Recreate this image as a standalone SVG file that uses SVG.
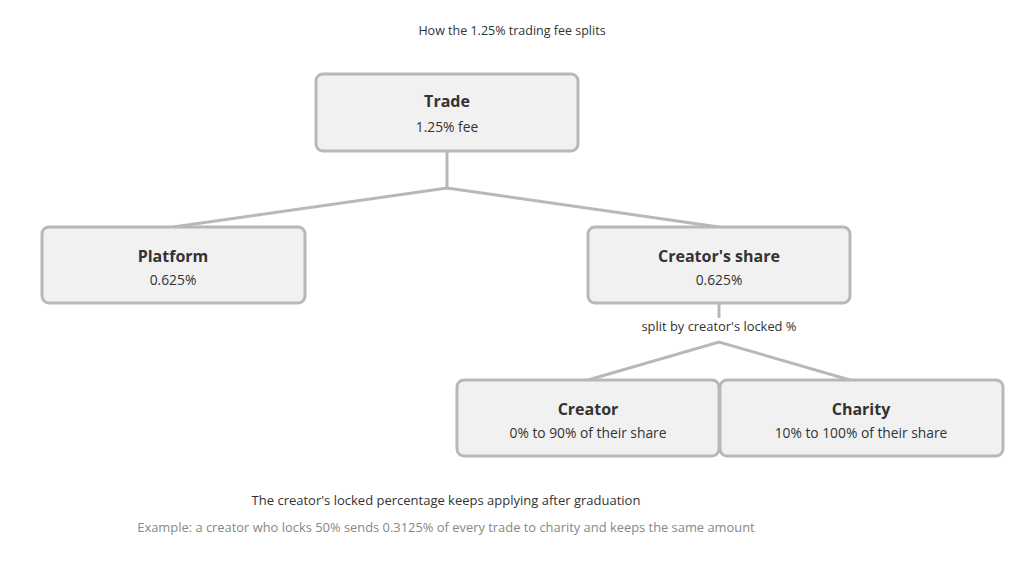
<svg xmlns="http://www.w3.org/2000/svg" width="1024" height="575" viewBox="0 0 1024 575">
<style>
.box{fill:#f1f1f1;stroke:#b8b8b8;stroke-width:3}
.t{font-family:"Open Sans","Noto Sans","Liberation Sans",sans-serif;fill:#333;text-anchor:middle}
.h{font-size:16px;font-weight:700}
.s{font-size:13.8px}
.c{fill:none;stroke:#b8b8b8;stroke-width:3}
</style>
<rect width="1024" height="575" fill="#ffffff"/>
<text class="t" x="512" y="35" font-size="12.5">How the 1.25% trading fee splits</text>
<g id="connectors">
<polyline class="c" points="447,151 447,188"/>
<polyline class="c" points="173,227 447,188 719,227"/>
<polyline class="c" points="719,303 719,318"/>
<polyline class="c" points="588,380 719,342 850,380"/>
<text class="t" x="719" y="331" font-size="12.9">split by creator's locked %</text>
</g>
<g id="trade">
<rect class="box" x="316" y="74" width="262" height="77" rx="7"/>
<text class="t h" x="447" y="107">Trade</text>
<text class="t s" x="447" y="132">1.25% fee</text>
</g>
<g id="platform">
<rect class="box" x="42" y="227" width="263" height="76" rx="7"/>
<text class="t h" x="173" y="262">Platform</text>
<text class="t s" x="173" y="285">0.625%</text>
</g>
<g id="creators-share">
<rect class="box" x="588" y="227" width="262" height="76" rx="7"/>
<text class="t h" x="719" y="262">Creator's share</text>
<text class="t s" x="719" y="285">0.625%</text>
</g>
<g id="creator">
<rect class="box" x="457" y="380" width="262" height="76" rx="7"/>
<text class="t h" x="588" y="415">Creator</text>
<text class="t s" x="588" y="438">0% to 90% of their share</text>
</g>
<g id="charity">
<rect class="box" x="720" y="380" width="283" height="76" rx="7"/>
<text class="t h" x="861" y="415">Charity</text>
<text class="t s" x="861" y="438">10% to 100% of their share</text>
</g>
<text class="t" x="446" y="505" font-size="13">The creator's locked percentage keeps applying after graduation</text>
<text class="t" x="446" y="532" font-size="12.9" style="fill:#888">Example: a creator who locks 50% sends 0.3125% of every trade to charity and keeps the same amount</text>
</svg>
